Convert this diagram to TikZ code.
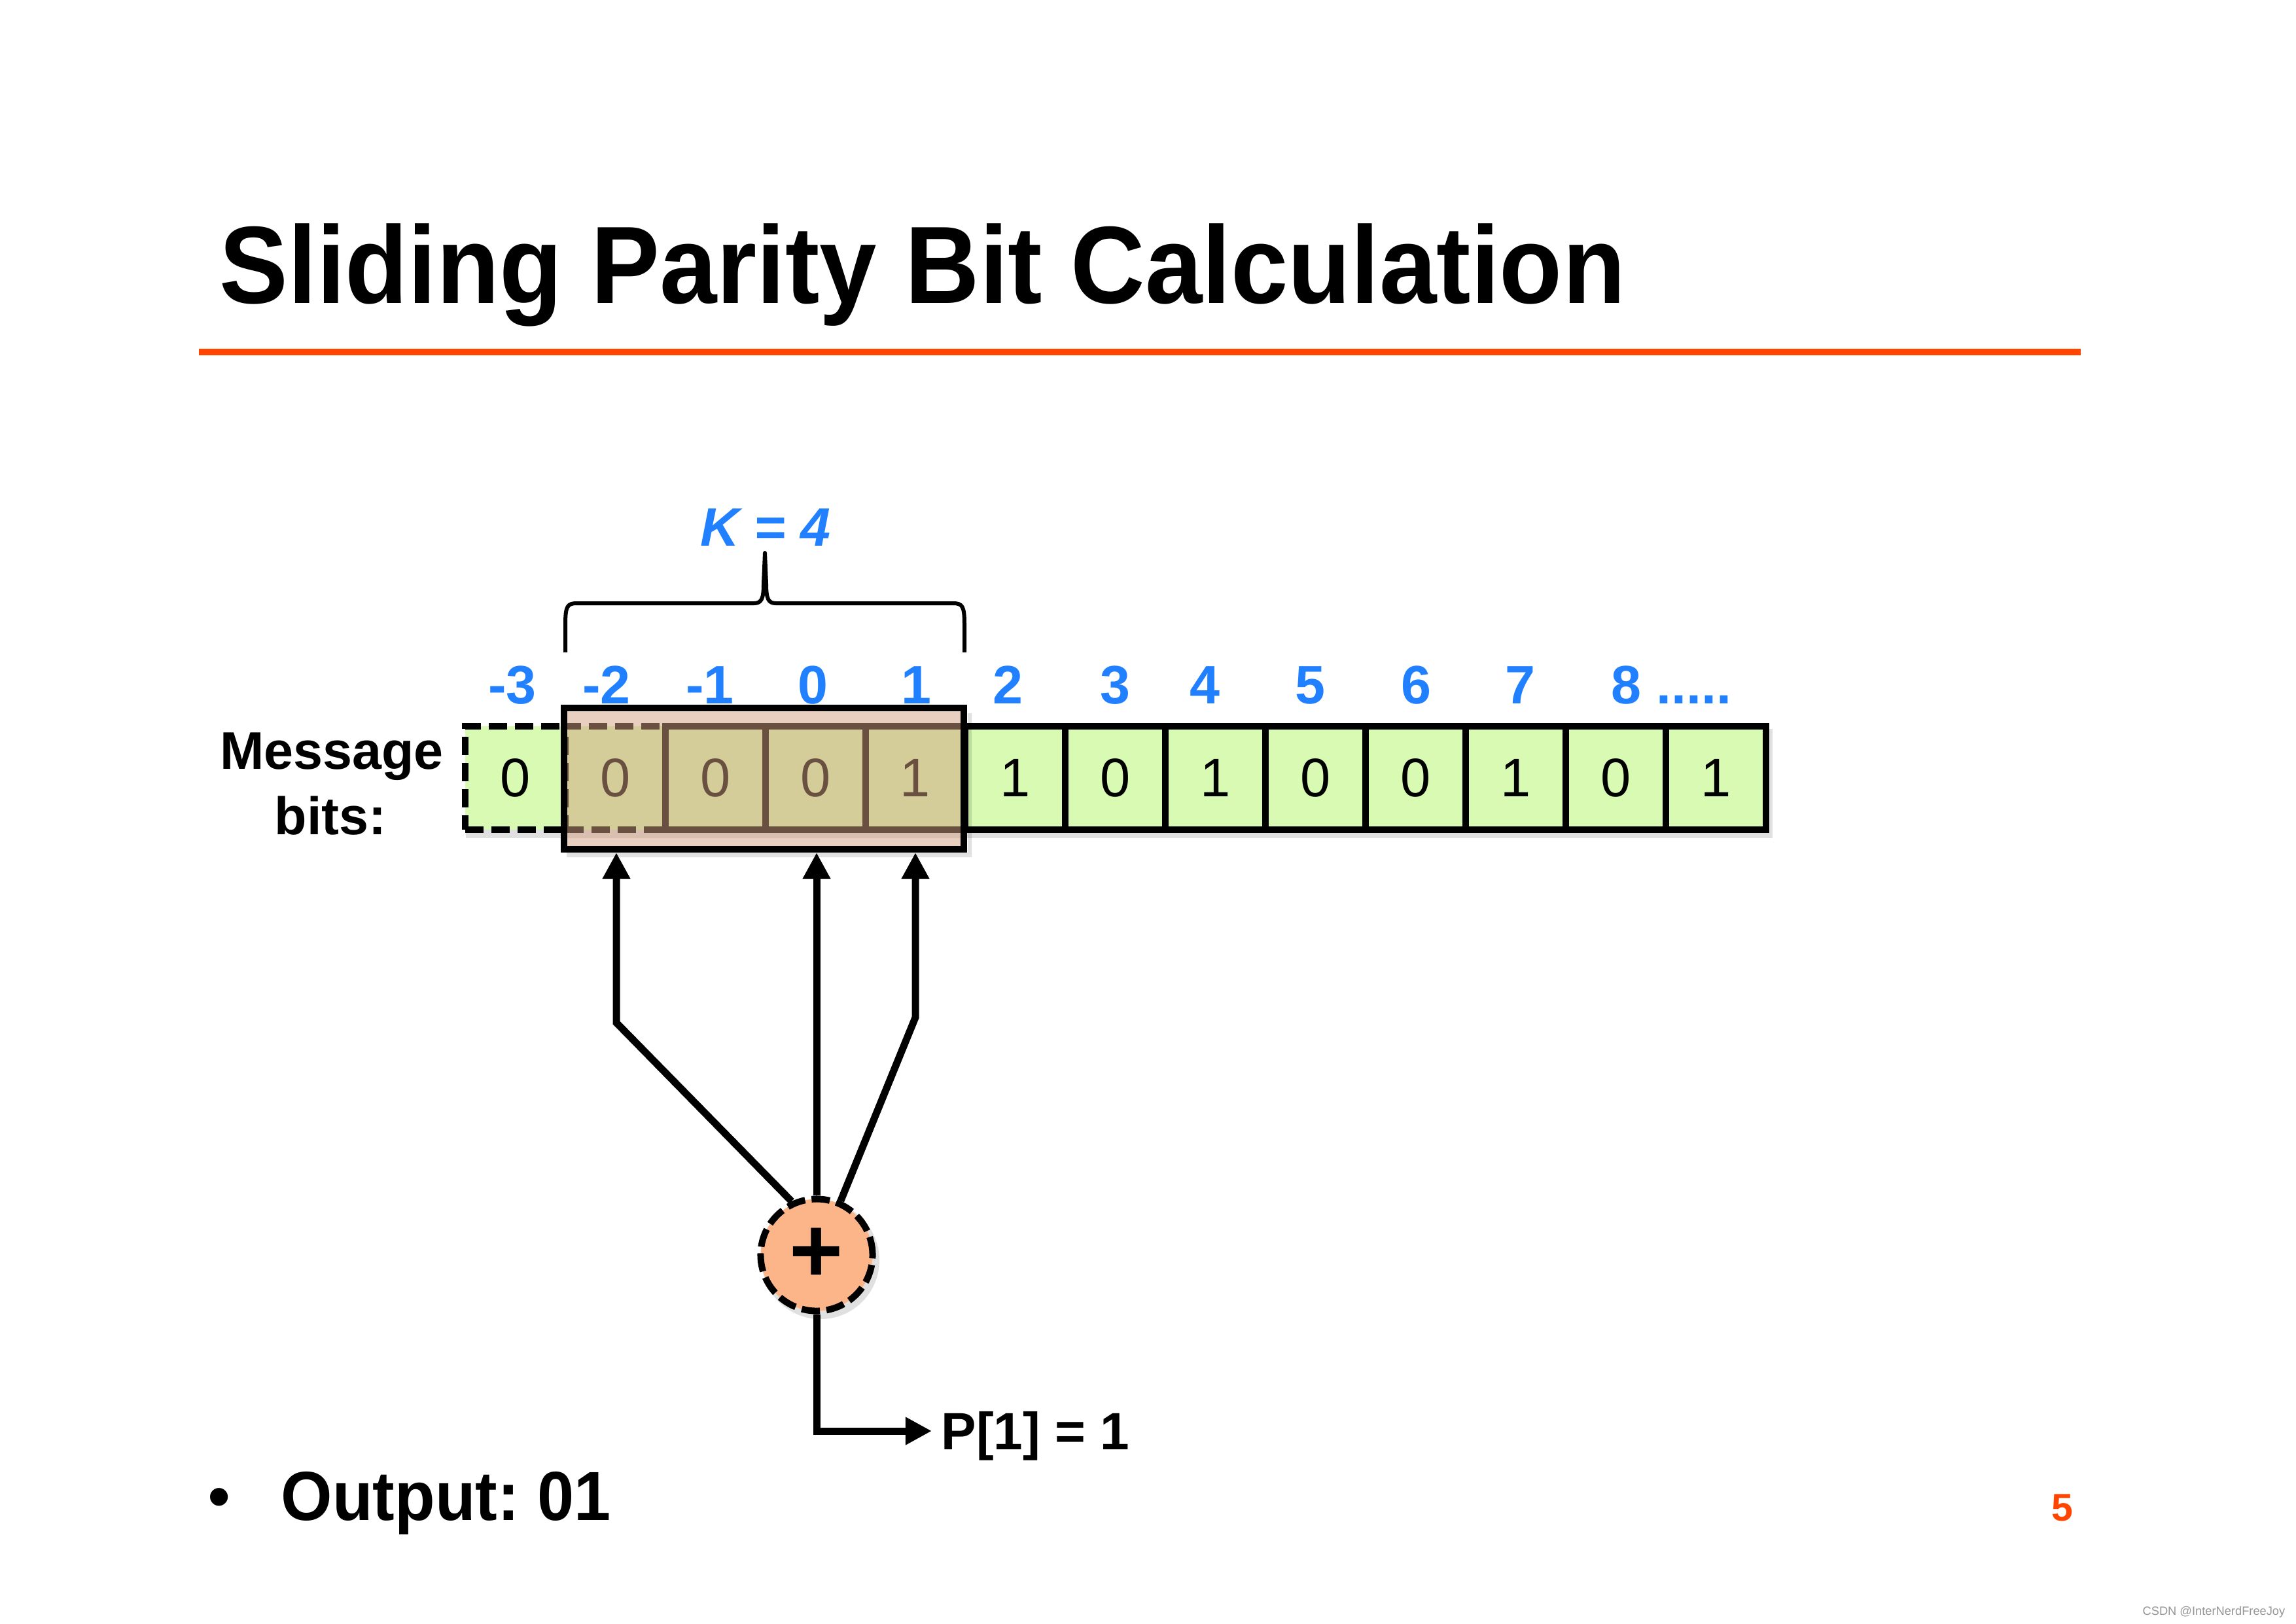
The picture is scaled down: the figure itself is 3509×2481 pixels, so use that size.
\documentclass[tikz,border=0pt]{standalone}
\usepackage{fontspec}
\usepackage{graphicx}
\setmainfont{Liberation Sans}
\usetikzlibrary{arrows.meta}
\definecolor{cellgreen}{RGB}{216,250,178}
\definecolor{winbrown}{RGB}{210,160,130}
\definecolor{idxblue}{RGB}{33,128,255}
\definecolor{peach}{RGB}{251,181,137}
\definecolor{accent}{RGB}{255,69,0}
\definecolor{wmgray}{RGB}{150,150,150}
\frenchspacing
\begin{document}
\begin{tikzpicture}[x=0.01cm,y=-0.01cm,
  cellbox/.style={draw=black, fill=cellgreen, line width=0.1cm, minimum width=1.529cm, minimum height=1.58cm, inner sep=0pt, font=\fontsize{23.6}{28}\selectfont, text=black},
  dashedbox/.style={dash pattern=on 0.28cm off 0.12cm},
  idxlabel/.style={anchor=base, inner sep=0pt, text=idxblue, font=\fontsize{23.5}{28}\bfseries},
  feed/.style={line width=0.11cm, line join=miter, -{Triangle[length=0.4cm, width=0.4cm]}},
  shade/.style={fill=black, fill opacity=0.12},
  boldtext/.style={inner sep=0pt, text=black}
]
\useasboundingbox (0,0) rectangle (3509,2481);
\fill[white] (0,0) rectangle (3509,2481);

% title and rule
\node[boldtext, anchor=base west, font=\fontsize{47.8}{57}\bfseries] (title) at (335,463) {\scalebox{0.935}[1]{Sliding Parity Bit Calculation}};
\draw[accent, line width=0.1cm] (304,538) -- (3180,538);

% shadow of the strip
\fill[shade] (712,1114) rectangle (2709,1281);

% cells
\node[cellbox, dashedbox] (c0) at (787.45,1189) {0};
\node[cellbox, dashedbox] (c1) at (940.35,1189) {0};
\foreach \b [count=\i from 2] in {0,0,1,1,0,1,0,0,1,0,1} {
  \pgfmathsetmacro\cx{711+152.9*(\i+0.5)}
  \node[cellbox] (c\i) at (\cx,1189) {\b};
}

% window shadow (visible edge)
\fill[shade] (866,1303) -- (1479,1303) -- (1479,1090) -- (1485,1090) -- (1485,1310) -- (866,1310) -- cycle;
% sliding window
\node[draw=black, line width=0.1cm, fill=winbrown, fill opacity=0.5, draw opacity=1, minimum width=6.11cm, minimum height=2.16cm, inner sep=0pt] (win) at (1167.5,1190) {};

% index labels
\foreach \t/\x [count=\i from 0] in {-3/783,-2/927,-1/1085,0/1242,1/1400,2/1540,3/1704,4/1841,5/2002,6/2164,7/2323} {
  \node[idxlabel] (l\i) at (\x,1075) {\t};
}
\node[idxlabel, anchor=base west] (l11) at (2462,1075) {8 .....};

% brace and K
\draw[line width=0.06cm, line join=round] (864,997) -- (864,955) .. controls (864,926) and (867,922) .. (882,922) -- (1152,922) .. controls (1164,922) and (1167,915) .. (1167,892) -- (1169,845) -- (1171,892) .. controls (1171,915) and (1174,922) .. (1186,922) -- (1456,922) .. controls (1471,922) and (1474,926) .. (1474,955) -- (1474,997);
\node[idxlabel, font=\fontsize{23.5}{28}\bfseries\itshape] (kval) at (1170,834) {K = 4};

% message bits label
\node[boldtext, anchor=base, font=\fontsize{23}{28}\bfseries] (msg1) at (507,1175) {Message};
\node[boldtext, anchor=base, font=\fontsize{23}{28}\bfseries] (msg2) at (505,1275) {bits:};

% adder
\fill[shade] (1254,1926) circle (90);
\node[circle, draw=black, fill=peach, line width=0.1cm, dash pattern=on 0.28cm off 0.1cm, minimum size=1.71cm, inner sep=0pt, font=\fontsize{40}{48}\bfseries] (plus) at (1248,1918) {\raisebox{-0.05em}{+}};

% taps
\coordinate (bendL) at (942,1563);
\coordinate (bendR) at (1399,1555);
\draw[feed] (plus.115) -- (bendL) -- (bendL |- win.south);
\draw[feed] (plus.north) -- (plus.north |- win.south);
\draw[feed] (plus.66) -- (bendR) -- (bendR |- win.south);

% output
\node[boldtext, anchor=base west, inner xsep=0.14cm, inner ysep=0pt, font=\fontsize{22.8}{27}\bfseries] (p1) at (1424,2215) {P[1] = 1};
\coordinate (corner) at (1248,2187);
\draw[feed] (plus.south) -- (corner) -- (corner -| p1.west);

% bullet line
\node[boldtext, anchor=base, font=\fontsize{27}{32}\bfseries] (bul) at (335,2319) {•};
\node[boldtext, anchor=base west, font=\fontsize{30.2}{36}\bfseries] (outp) at (429,2323) {\scalebox{0.95}[1]{Output: 01}};

% page number and watermark
\node[anchor=base, inner sep=0pt, text=accent, font=\fontsize{16.8}{20}\bfseries] (pg) at (3152,2324) {5};
\node[anchor=base east, inner sep=0pt, text=wmgray, font=\fontsize{5.2}{6}\selectfont] (wm) at (3493,2468) {CSDN @InterNerdFreeJoy};
\end{tikzpicture}
\end{document}
